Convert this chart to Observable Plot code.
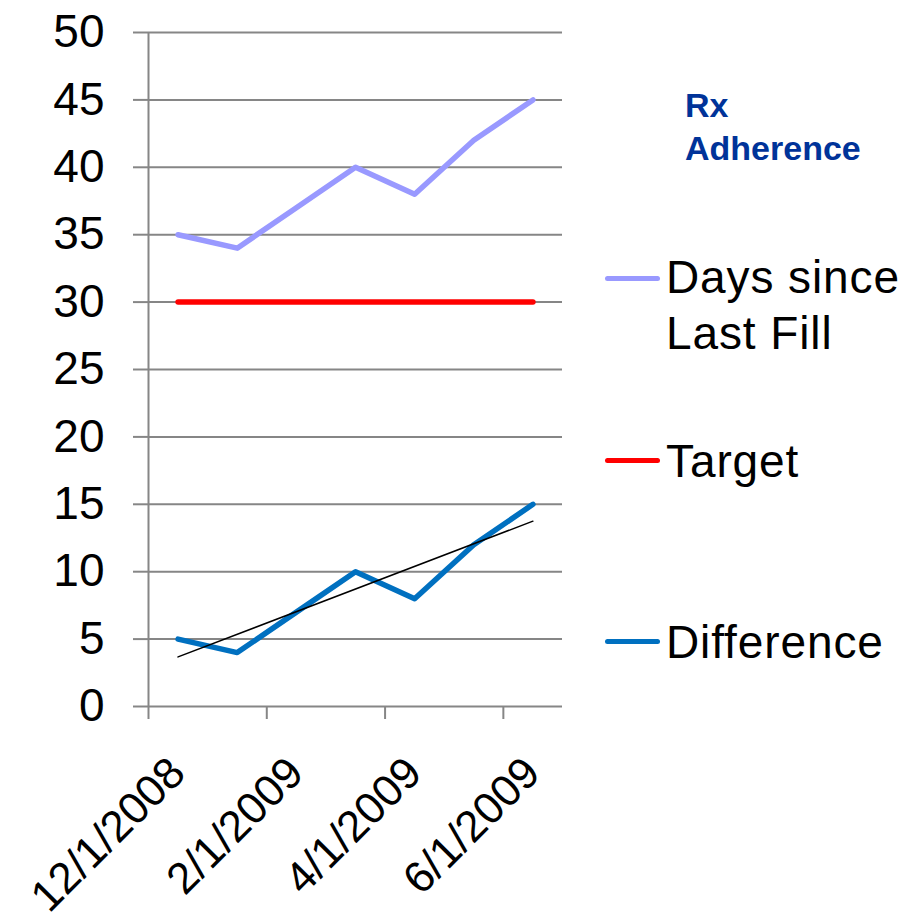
<!DOCTYPE html>
<html>
<head>
<meta charset="utf-8">
<script src="https://cdn.jsdelivr.net/npm/d3@7"></script>
<script src="https://cdn.jsdelivr.net/npm/@observablehq/plot@0.6"></script>
<style>
  html, body { margin: 0; padding: 0; background: #fff; }
  #wrap { position: relative; width: 917px; height: 922px; font-family: Arial, "Liberation Sans", sans-serif; }
  #chart svg { display: block; }
  .lg { position: absolute; font-size: 46px; line-height: 56px; letter-spacing: 0.9px; color: #000; white-space: nowrap; }
  .sw { position: absolute; left: 605px; width: 55px; height: 5px; border-radius: 3px; }
  .title { position: absolute; left: 685px; top: 84px; font-size: 34px; line-height: 43px; font-weight: bold; color: #003399; }
</style>
</head>
<body>
<div id="wrap">
  <div id="chart"></div>
</div>
<script>
// ---- data ----
const months = ["12/1/2008", "1/1/2009", "2/1/2009", "3/1/2009", "4/1/2009", "5/1/2009", "6/1/2009"];
const daysSinceLastFill = [35, 34, 37, 40, 38, 42, 45];
const target = [30, 30, 30, 30, 30, 30, 30];
const difference = [5, 4, 7, 10, 8, 12, 15];
const xTickLabels = ["12/1/2008", "2/1/2009", "4/1/2009", "6/1/2009"];
const yTicks = [0, 5, 10, 15, 20, 25, 30, 35, 40, 45, 50];
const seriesNames = ["Days since Last Fill", "Target", "Difference"];
const seriesColors = ["#9999FF", "#FF0000", "#0070C0"];
const chartTitle = ["Rx", "Adherence"];

// month slot i spans [i, i+1]; points sit mid-slot
const rows = months.map((m, i) => ({
  slot: i + 0.5,
  days: daysSinceLastFill[i],
  target: target[i],
  diff: difference[i]
}));
const tickPos = xTickLabels.map(l => months.indexOf(l));

const gray = "#868686";
const lineW = 5.5;

const plot = Plot.plot({
  width: 917,
  height: 922,
  marginLeft: 148,
  marginRight: 355,
  marginTop: 32,
  marginBottom: 216,
  style: { fontFamily: 'Arial, "Liberation Sans", sans-serif', fontSize: "46px", background: "#fff", overflow: "visible" },
  x: { type: "linear", domain: [0, months.length], label: null },
  y: { domain: [0, 50], label: null },
  marks: [
    Plot.ruleY(yTicks, { stroke: gray, strokeWidth: 2 }),
    Plot.ruleX([0], { stroke: gray, strokeWidth: 2 }),
    Plot.axisY(yTicks, {
      tickSize: 15, tickPadding: 29, stroke: gray, strokeWidth: 2, fill: "#000",
      fontSize: 46, tickFormat: d => String(d), label: null
    }),
    // tick marks only
    Plot.axisX(tickPos, {
      tickSize: 13, stroke: gray, strokeWidth: 2, tickFormat: () => "", label: null
    }),
    // rotated tick labels only
    Plot.axisX(tickPos, {
      tickSize: 0, tickPadding: 59, tickRotate: -45, fill: "#000",
      fontSize: 44, dx: 29, tickFormat: i => months[i], label: null
    }),
    Plot.lineY(rows, { x: "slot", y: "days", stroke: seriesColors[0], strokeWidth: lineW, strokeLinejoin: "round" }),
    Plot.lineY(rows, { x: "slot", y: "target", stroke: seriesColors[1], strokeWidth: lineW, strokeLinejoin: "round" }),
    Plot.lineY(rows, { x: "slot", y: "diff", stroke: seriesColors[2], strokeWidth: lineW, strokeLinejoin: "round" }),
    Plot.linearRegressionY(rows, { x: "slot", y: "diff", stroke: "#000", strokeWidth: 1.5, ci: 0 })
  ]
});
document.getElementById("chart").appendChild(plot);

// ---- legend (overlay on the right) ----
const wrap = document.getElementById("wrap");
const t = document.createElement("div");
t.className = "title";
t.innerHTML = chartTitle.join("<br>");
wrap.appendChild(t);

const legendTops = [249, 433, 614];
const swatchTops = [275.5, 457.5, 638.5];
const legendLines = [["Days since", "Last Fill"], ["Target"], ["Difference"]];
seriesNames.forEach((name, k) => {
  const sw = document.createElement("div");
  sw.className = "sw";
  sw.style.top = swatchTops[k] + "px";
  sw.style.background = seriesColors[k];
  wrap.appendChild(sw);
  const lb = document.createElement("div");
  lb.className = "lg";
  lb.style.left = "666px";
  lb.style.top = legendTops[k] + "px";
  lb.innerHTML = legendLines[k].join("<br>");
  lb.title = name;
  wrap.appendChild(lb);
});
</script>
</body>
</html>
